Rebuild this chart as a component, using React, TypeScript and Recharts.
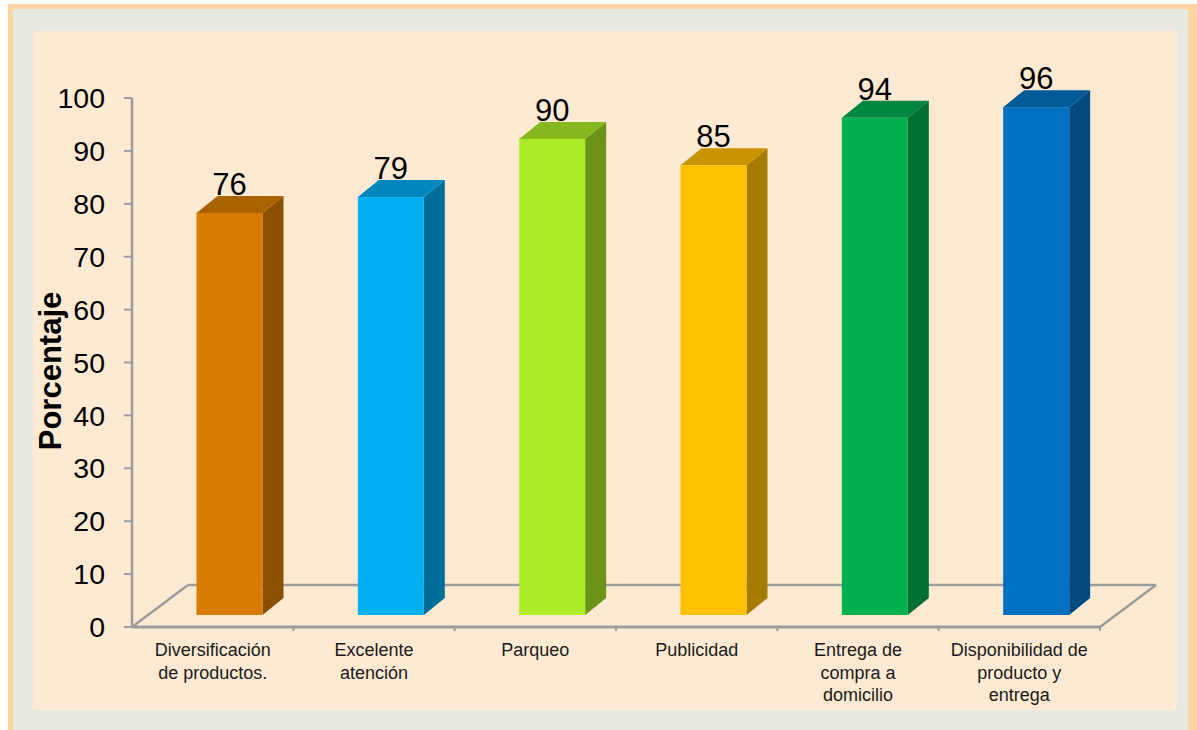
import { BarChart, Bar, XAxis, YAxis, ReferenceArea, LabelList } from 'recharts';

const categories = [
  'Diversificación\nde productos.',
  'Excelente\natención',
  'Parqueo',
  'Publicidad',
  'Entrega de\ncompra a\ndomicilio',
  'Disponibilidad de\nproducto y\nentrega',
];
const values = [76, 79, 90, 85, 94, 96];
const yTicks = [0, 10, 20, 30, 40, 50, 60, 70, 80, 90, 100];

const frontColors = ['#D97B00', '#00B0F0', '#ADEA28', '#FFC000', '#00B050', '#0070C0'];
const topColors = ['#A86200', '#0088BE', '#86B71F', '#C89500', '#00863E', '#005A96'];
const sideColors = ['#8A5000', '#006E9A', '#6B9418', '#A67C00', '#007032', '#004A80'];

const data = categories.map((name, i) => ({ name, value: values[i] }));

// 3d look: bars sit a bit back inside the floor
const BAR_DX = 16.5;
const BAR_DY = -12;
const SIDE_DX = 21;
const SIDE_DY = -17;
const FLOOR_DX = 56;
const FLOOR_DY = -42;
const FONT = 'Arial, "Liberation Sans", sans-serif';

const Bar3D = (props: any) => {
  const { x, y, width, height, index } = props;
  const i = index ?? 0;
  const fx = x + BAR_DX;
  const top = y + BAR_DY;
  const bottom = y + height + BAR_DY;
  const r = fx + width;
  return (
    <g>
      <polygon
        points={`${r},${top} ${r + SIDE_DX},${top + SIDE_DY} ${r + SIDE_DX},${bottom + SIDE_DY} ${r},${bottom}`}
        fill={sideColors[i]}
      />
      <polygon
        points={`${fx},${top} ${fx + SIDE_DX},${top + SIDE_DY} ${r + SIDE_DX},${top + SIDE_DY} ${r},${top}`}
        fill={topColors[i]}
      />
      <rect x={fx} y={top} width={width} height={bottom - top} fill={frontColors[i]} />
    </g>
  );
};

const Floor = (props: any) => {
  const { x, y, width, height } = props;
  const yb = y + height;
  const x1 = x + width;
  const step = width / categories.length;
  return (
    <g fill="none" stroke="#9c9c9c">
      <line x1={x + FLOOR_DX} y1={yb + FLOOR_DY} x2={x1 + FLOOR_DX} y2={yb + FLOOR_DY} strokeWidth={2.5} />
      <line x1={x} y1={yb} x2={x + FLOOR_DX} y2={yb + FLOOR_DY} strokeWidth={2.5} />
      <line x1={x1} y1={yb} x2={x1 + FLOOR_DX} y2={yb + FLOOR_DY} strokeWidth={2.5} />
      <line x1={x} y1={yb} x2={x1} y2={yb} strokeWidth={3} />
      {categories.map((_, k) => (
        <line key={k} x1={x + step * (k + 1)} y1={yb} x2={x + step * (k + 1)} y2={yb + 4} strokeWidth={2} />
      ))}
    </g>
  );
};

const CategoryTick = (props: any) => {
  const { x, y, payload } = props;
  const lines = String(payload.value).split('\n');
  return (
    <text x={x} y={y + 29} textAnchor="middle" fontSize={18} fill="#1a1a1a" fontFamily={FONT}>
      {lines.map((l, k) => (
        <tspan key={k} x={x} dy={k === 0 ? 0 : 22.5}>
          {l}
        </tspan>
      ))}
    </text>
  );
};

const ValueLabel = (props: any) => {
  const { x, y, width, value } = props;
  return (
    <text
      x={x + width / 2 + BAR_DX}
      y={y + BAR_DY + SIDE_DY - 1}
      textAnchor="middle"
      fontSize={31}
      fill="#000"
      fontFamily={FONT}
    >
      {value}
    </text>
  );
};

const YTitle = (props: any) => {
  const { viewBox } = props;
  const cx = (viewBox?.x ?? 0) + 50;
  const cy = 371;
  return (
    <text
      x={cx}
      y={cy}
      transform={`rotate(-90, ${cx}, ${cy})`}
      textAnchor="middle"
      dominantBaseline="central"
      fontSize={31}
      fontWeight="bold"
      fill="#000"
      fontFamily={FONT}
    >
      Porcentaje
    </text>
  );
};

export default function App() {
  return (
    <div style={{ position: 'absolute', left: 0, top: 0, width: 1197, height: 730, overflow: 'hidden', background: '#fff' }}>
      <div
        style={{
          position: 'absolute',
          left: 8,
          top: 4,
          width: 1189,
          height: 740,
          boxSizing: 'border-box',
          background: '#E8E9E0',
          borderLeft: '5px solid #FCD5A2',
          borderTop: '5px solid #FCD5A2',
          borderRight: '9px solid #FCD5A2',
        }}
      />
      <div style={{ position: 'absolute', left: 33, top: 31, width: 1144, height: 679, background: '#FEEAD2' }} />
      <div style={{ position: 'absolute', left: 0, top: 0 }}>
        <BarChart
          width={1197}
          height={730}
          data={data}
          margin={{ top: 98, right: 97, bottom: 23, left: 0 }}
          barSize={66}
        >
          <ReferenceArea y1={0} y2={100} shape={<Floor />} ifOverflow="visible" />
          <XAxis
            dataKey="name"
            height={80}
            axisLine={false}
            tickLine={false}
            tickSize={0}
            tickMargin={0}
            interval={0}
            tick={<CategoryTick />}
          />
          <YAxis
            width={132}
            domain={[0, 100]}
            ticks={yTicks}
            interval={0}
            axisLine={{ stroke: '#9c9c9c', strokeWidth: 2.5 }}
            tickLine={{ stroke: '#9c9c9c', strokeWidth: 2 }}
            tickSize={8}
            tickMargin={19}
            tick={{ fontSize: 28.5, fill: '#000', fontFamily: FONT }}
            label={<YTitle />}
          />
          <Bar dataKey="value" shape={Bar3D} isAnimationActive={false}>
            <LabelList dataKey="value" content={<ValueLabel />} />
          </Bar>
        </BarChart>
      </div>
    </div>
  );
}
